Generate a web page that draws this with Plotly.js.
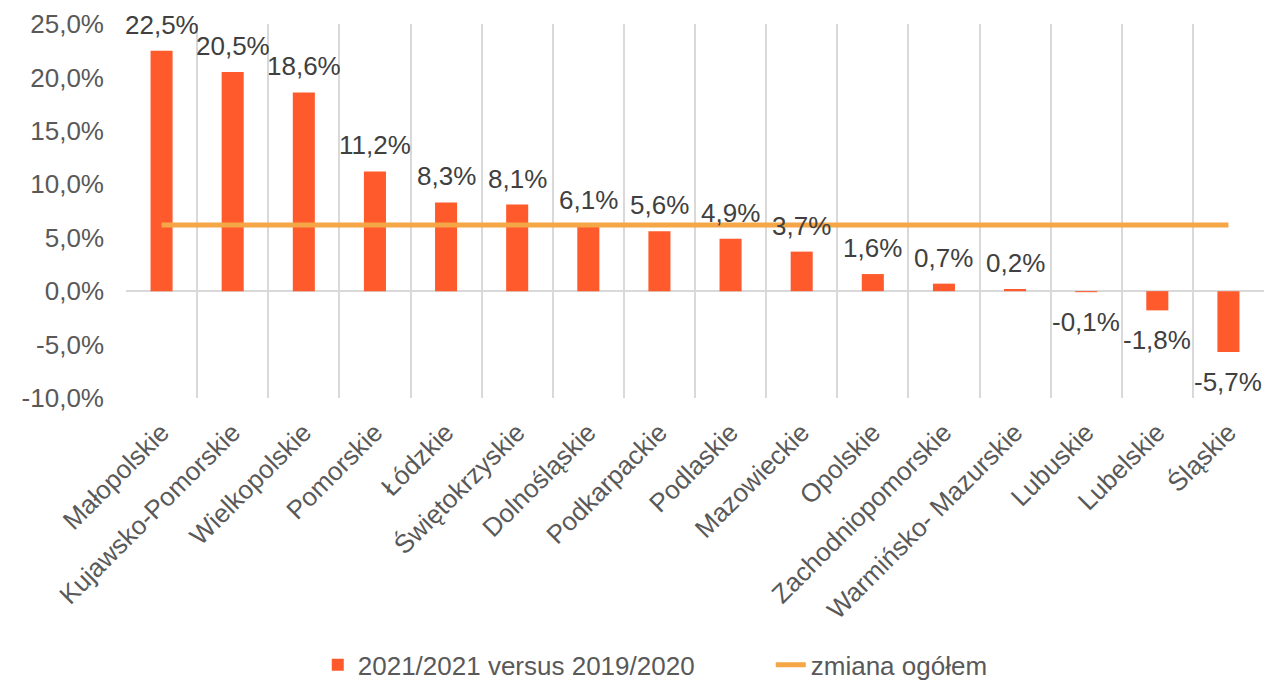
<!DOCTYPE html>
<html>
<head>
<meta charset="utf-8">
<script src="https://cdn.plot.ly/plotly-3.0.1.min.js"></script>
<style>html,body{margin:0;padding:0;background:#fff;}#chart{width:1266px;height:682px;}</style>
</head>
<body>
<div id="chart"></div>
<script>
const categories = ["Małopolskie","Kujawsko-Pomorskie","Wielkopolskie","Pomorskie","Łódzkie","Świętokrzyskie","Dolnośląskie","Podkarpackie","Podlaskie","Mazowieckie","Opolskie","Zachodniopomorskie","Warmińsko- Mazurskie","Lubuskie","Lubelskie","Śląskie"];
const changeValues = [22.5,20.5,18.6,11.2,8.3,8.1,6.1,5.6,4.9,3.7,1.6,0.7,0.2,-0.1,-1.8,-5.7];
const totalChange = [6.2,6.2,6.2,6.2,6.2,6.2,6.2,6.2,6.2,6.2,6.2,6.2,6.2,6.2,6.2,6.2];
const yTicks = [-10,-5,0,5,10,15,20,25];
const seriesNames = ["2021/2021 versus 2019/2020","zmiana ogółem"];

const fmt = v => v.toFixed(1).replace('.', ',') + '%';
const fontFam = "Liberation Sans, Arial, sans-serif";
const FS = 26;
const data = [
  {type:"bar", x:categories, y:changeValues, name:seriesNames[0],
   marker:{color:"#FF5A2C"}, hoverinfo:"x+y"},
  {type:"scatter", mode:"lines", x:categories, y:totalChange, name:seriesNames[1],
   line:{color:"#F5A646",width:5}}
];
const annotations = categories.map((c, i) => ({
  x: c, y: changeValues[i], xref: "x", yref: "y",
  text: fmt(changeValues[i]), showarrow: false,
  xanchor: "center", yanchor: "middle",
  yshift: changeValues[i] >= 0 ? 26 : -30,
  font: {family: fontFam, size: FS, color: "#404040"}
}));
const layout = {
  width:1266, height:682,
  margin:{l:126,r:2,t:24,b:284,autoexpand:false},
  paper_bgcolor:"#fff", plot_bgcolor:"#fff",
  font:{family:fontFam,size:FS,color:"#595959"},
  bargap:0.69,
  showlegend:true,
  annotations: annotations,
  legend:{orientation:"h",x:0.251,xanchor:"left",xref:"container",y:0.025,yanchor:"middle",yref:"container",
    font:{family:fontFam,size:FS,color:"#595959"},traceorder:"normal",entrywidth:408},
  xaxis:{type:"category",range:[-0.5,categories.length-0.5],autorange:false,tickson:"boundaries",showgrid:true,gridcolor:"#d9d9d9",gridwidth:2,
    tickangle:-45,ticks:"",showline:false,zeroline:false,ticklabelstandoff:13,
    tickfont:{family:fontFam,size:FS,color:"#595959"},automargin:false},
  yaxis:{range:[-10,25],autorange:false,tickvals:yTicks,ticktext:yTicks.map(fmt),ticklabelstandoff:21,
    showgrid:false,zeroline:true,zerolinecolor:"#d9d9d9",zerolinewidth:2,
    showline:false,ticks:"",tickfont:{family:fontFam,size:FS,color:"#595959"},automargin:false}
};
Plotly.newPlot("chart",data,layout,{displayModeBar:false,staticPlot:true});
</script>
</body>
</html>
